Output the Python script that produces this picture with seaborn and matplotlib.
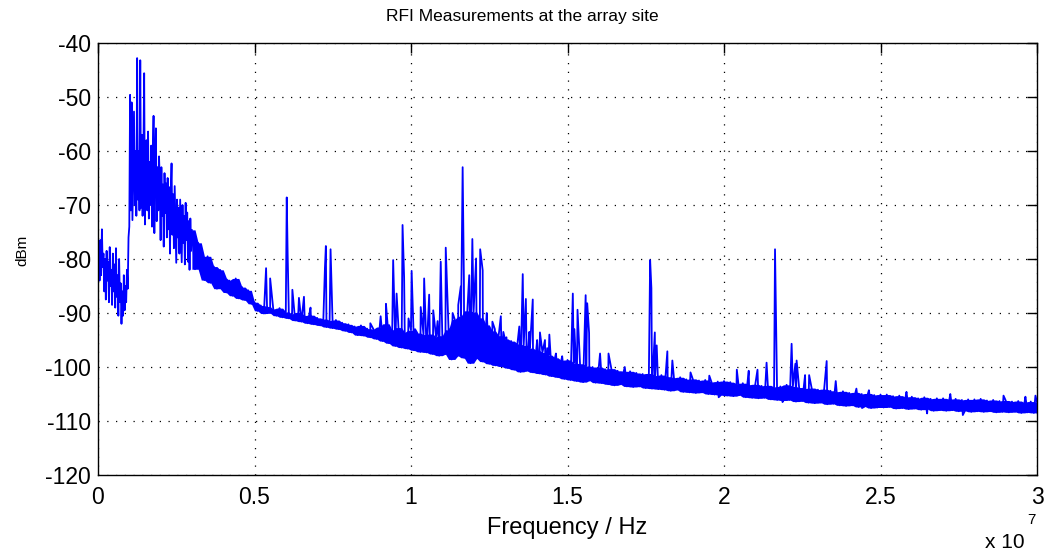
import numpy as np
import pandas as pd
import matplotlib
matplotlib.use("Agg")
import matplotlib.pyplot as plt
import seaborn as sns

# ---------------- data ----------------
title_text = "RFI Measurements at the array site"
x_label = "Frequency / Hz"
y_label = "dBm"
xtick_vals = [0, 0.5, 1, 1.5, 2, 2.5, 3]          # in units of 1e7 Hz
xtick_labels = ["0", "0.5", "1", "1.5", "2", "2.5", "3"]
ytick_vals = [-40, -50, -60, -70, -80, -90, -100, -110, -120]
ytick_labels = ["-40", "-50", "-60", "-70", "-80", "-90", "-100", "-110", "-120"]

# low band sweep 0 - 3 MHz, 0.025 MHz bins (dBm)
low_band_dbm = [
    -82.0, -77.5, -84.0, -76.5, -83.0, -74.5, -81.5, -79.0, -86.0, -80.0,
    -87.5, -78.5, -84.0, -80.5, -88.0, -77.8, -85.0, -82.0, -88.5, -79.0,
    -86.0, -81.0, -89.0, -78.0, -87.0, -83.0, -90.5, -80.0, -88.0, -84.5,
    -92.0, -86.0, -90.5, -83.0, -89.5, -85.0, -88.0, -82.0, -85.5, -76.0,
    -74.0, -49.6, -71.0, -51.0, -72.8, -62.0, -52.7, -70.0, -60.0, -72.0,
    -42.8, -69.0, -60.0, -71.0, -43.2, -70.5, -57.0, -72.0, -61.0, -45.6,
    -73.6, -60.0, -58.0, -71.0, -56.4, -72.5, -62.0, -70.0, -59.0, -74.0,
    -61.0, -53.5, -75.2, -60.0, -55.8, -73.0, -63.0, -71.0, -61.0, -65.7,
    -76.5, -63.0, -72.0, -66.2, -77.7, -64.1, -71.5, -66.0, -76.0, -65.0,
    -74.5, -66.7, -79.0, -67.5, -62.3, -75.5, -68.0, -78.0, -66.5, -73.5,
    -80.7, -69.0, -76.0, -70.5, -79.0, -69.0, -74.5, -80.6, -70.0, -77.0,
    -72.0, -81.0, -69.6, -76.5, -71.4, -80.5, -73.0, -82.0, -72.5, -78.5,
]

# noise floor sweep 3 - 30 MHz, 0.1 MHz bins (dBm)
floor_dbm = [
    -74.6, -81.9, -77.0, -80.5, -83.9, -79.5, -84.4, -81.4, -85.5, -82.0,
    -83.5, -86.2, -84.0, -86.8, -83.6, -87.3, -85.2, -87.6, -85.8, -88.3,
    -88.0, -89.6, -88.6, -90.1, -88.8, -90.0, -89.3, -90.5, -89.1, -90.8,
    -89.8, -91.0, -90.2, -91.4, -89.9, -91.6, -90.5, -91.9, -90.4, -92.1,
    -90.9, -92.3, -91.1, -92.6, -91.4, -92.8, -91.3, -93.0, -91.8, -93.3,
    -92.1, -93.6, -92.5, -94.1, -92.3, -94.2, -92.9, -94.5, -93.0, -94.8,
    -92.6, -95.2, -92.0, -95.6, -93.2, -96.1, -92.7, -96.4, -93.6, -96.6,
    -93.2, -96.9, -93.7, -97.2, -94.0, -97.3, -93.9, -97.6, -94.4, -97.9,
    -94.2, -97.6, -93.1, -98.6, -91.2, -97.9, -90.6, -98.3, -89.6, -99.3,
    -89.8, -98.4, -90.9, -99.0, -92.2, -99.4, -93.3, -99.7, -94.2, -99.9,
    -94.8, -100.2, -95.2, -100.5, -95.7, -100.9, -96.0, -100.7, -96.5, -101.0,
    -96.9, -101.2, -97.3, -101.4, -97.8, -101.7, -98.3, -101.9, -98.8, -102.2,
    -98.7, -102.4, -99.3, -102.6, -99.4, -102.8, -99.8, -102.5, -100.0, -102.9,
    -100.0, -103.0, -100.4, -103.2, -100.3, -103.4, -100.7, -103.2, -100.8, -103.6,
    -100.8, -103.7, -101.1, -103.6, -101.3, -103.9, -101.2, -104.0, -101.6, -104.1,
    -101.5, -104.2, -101.8, -104.4, -102.0, -104.2, -101.9, -104.6, -102.3, -104.7,
    -102.2, -104.8, -102.5, -104.7, -102.4, -105.0, -102.8, -105.1, -102.7, -105.2,
    -102.6, -105.3, -102.8, -105.4, -103.1, -105.2, -103.0, -105.6, -103.3, -105.7,
    -103.2, -105.8, -103.5, -105.7, -103.4, -106.0, -103.7, -106.1, -103.6, -106.2,
    -103.3, -106.1, -103.6, -106.4, -103.8, -106.3, -104.0, -106.6, -103.9, -106.7,
    -104.2, -106.6, -104.1, -106.9, -104.4, -106.8, -104.6, -107.1, -104.5, -107.2,
    -104.8, -107.1, -104.7, -107.4, -105.0, -107.3, -104.9, -107.6, -105.2, -107.5,
    -105.1, -107.5, -105.1, -107.4, -105.4, -107.7, -105.3, -107.6, -105.6, -107.8,
    -105.5, -107.7, -105.8, -107.9, -105.6, -107.8, -105.9, -108.1, -105.8, -108.0,
    -105.8, -108.1, -106.0, -108.0, -105.9, -108.2, -106.1, -108.1, -106.0, -108.3,
    -106.0, -108.2, -105.9, -108.3, -106.2, -108.2, -106.1, -108.4, -106.3, -108.3,
    -106.2, -108.4, -106.4, -108.3, -106.3, -108.5, -106.6, -108.4, -106.4, -108.5,
    -106.5,
]

# narrow-band interferers and small excursions (MHz, dBm)
spike_mhz = [5.37, 5.50, 6.03, 6.06, 6.21, 6.42, 6.58, 6.79, 7.25, 7.28, 7.43,
             8.53, 8.70, 9.03, 9.20, 9.43, 9.54, 9.73, 9.78, 9.92, 10.02,
             10.13, 10.31, 10.42, 10.58, 10.71, 10.85, 10.95, 11.11, 11.21,
             11.33, 11.51, 11.59, 11.65, 11.69, 11.86, 11.96, 12.08, 12.21,
             12.29, 12.42, 12.60, 12.68, 12.87, 12.95, 13.05, 13.16, 13.32,
             13.46, 13.57, 13.67, 13.78, 13.89, 14.03, 14.12, 14.28, 14.35,
             14.42, 14.63, 14.83, 15.17, 15.22, 15.32, 15.58,
             15.63, 15.69, 16.04, 16.31, 16.83, 17.64, 17.68, 17.79, 17.85,
             18.19, 18.35, 18.93, 19.53, 19.83, 20.41, 20.79, 21.07, 21.36,
             21.63, 21.87, 22.16, 22.28, 22.32, 22.59, 22.72, 23.28, 23.57,
             24.23, 24.41, 24.63, 25.83, 26.49, 27.23, 27.63, 28.93, 29.63, 29.95]
spike_dbm = [-81.7, -83.6, -68.6, -79.4, -85.7, -87.2, -87.0, -89.0, -81.7, -77.6, -78.2,
             -93.4, -91.9, -90.6, -88.3, -80.2, -86.4, -73.7, -83.4, -91.0, -82.2,
             -93.0, -88.9, -83.6, -86.6, -89.5, -91.5, -80.5, -77.9, -93.0,
             -90.0, -88.5, -85.1, -63.0, -83.9, -83.0, -76.3, -79.9, -78.2,
             -82.1, -90.0, -91.6, -93.0, -90.6, -93.5, -94.5, -95.5, -96.0,
             -92.5, -82.8, -87.4, -93.5, -87.5, -95.0, -93.6, -95.0, -96.5,
             -94.0, -97.5, -98.0, -86.4, -93.0, -89.4, -86.7,
             -88.2, -93.7, -97.5, -97.5, -100.0, -80.2, -85.4, -93.6, -96.0,
             -97.1, -98.8, -101.0, -101.6, -105.6, -100.5, -100.7, -100.5, -99.2,
             -78.2, -106.5, -95.7, -99.4, -98.8, -101.5, -101.5, -98.9, -102.6,
             -104.0, -107.6, -104.3, -104.6, -108.6, -105.0, -108.9, -105.3, -105.5, -105.3]

# ---------------- assemble trace ----------------
low_mhz = np.round(np.arange(len(low_band_dbm)) * 0.025, 3)
floor_mhz = np.round(3.0 + np.arange(len(floor_dbm)) * 0.1, 2)
df = pd.DataFrame({
    "mhz": np.concatenate([low_mhz, floor_mhz, spike_mhz]),
    "dbm": np.concatenate([low_band_dbm, floor_dbm, spike_dbm]),
})
df = df.sort_values("mhz", kind="stable").reset_index(drop=True)
df["hz"] = df["mhz"] * 1e6

# the dense noise floor: area swept by the floor trace (neighbour max / min)
floor_s = pd.Series(floor_dbm)
floor_hi = floor_s.rolling(3, center=True, min_periods=1).max()
floor_lo = floor_s.rolling(3, center=True, min_periods=1).min()

# ---------------- style ----------------
sns.set_theme(style="white")
plt.rcParams["font.family"] = ["Liberation Sans", "DejaVu Sans"]
plt.rcParams["axes.unicode_minus"] = False

W, H = 1044, 553
fig = plt.figure(figsize=(W / 100, H / 100), dpi=100)
L, R, T, B = 98, 1037, 43, 475
ax = fig.add_axes([L / W, 1 - B / H, (R - L) / W, (B - T) / H])

blue = (0, 0, 1)
ax.fill_between(floor_mhz * 1e6, floor_lo, floor_hi, color=blue, linewidth=0, zorder=2)
sns.lineplot(data=df, x="hz", y="dbm", ax=ax, color=blue, linewidth=1.3,
             estimator=None, sort=False, legend=False, zorder=3)

ax.set_xlim(0, 3e7)
ax.set_ylim(-120, -40)
ax.set_xticks(np.array(xtick_vals) * 1e7)
ax.set_xticklabels(xtick_labels)
ax.set_yticks(ytick_vals)
ax.set_yticklabels(ytick_labels)
ax.tick_params(axis="both", direction="in", length=7, width=1, top=True, right=True,
               labelsize=16.5, colors="black")
ax.tick_params(axis="y", pad=5)
ax.tick_params(axis="x", pad=8)
ax.grid(True, color="black", linestyle=(0, (1, 6)), linewidth=0.9)
for s in ax.spines.values():
    s.set_color("black")
    s.set_linewidth(1.0)
    s.set_zorder(4)
ax.set_facecolor("white")

ax.set_xlabel(x_label, fontsize=17, color="black", va="center")
ax.xaxis.set_label_coords(0.5, (B - 528) / (B - T))
ax.set_ylabel(y_label, fontsize=11, color="black", va="center")
ax.yaxis.set_label_coords((22 - L) / (R - L), (B - 250) / (B - T))

fig.text(0.5, 1 - 17 / H, title_text, ha="center", va="center", fontsize=12.5,
         color="black")
fig.text(1025 / W, 1 - 548 / H, "x 10", ha="right", va="baseline", fontsize=15, color="black")
fig.text(1027 / W, 1 - 513 / H, "7", ha="left", va="top", fontsize=11, color="black")

fig.savefig("out.png", dpi=100, facecolor="white")
